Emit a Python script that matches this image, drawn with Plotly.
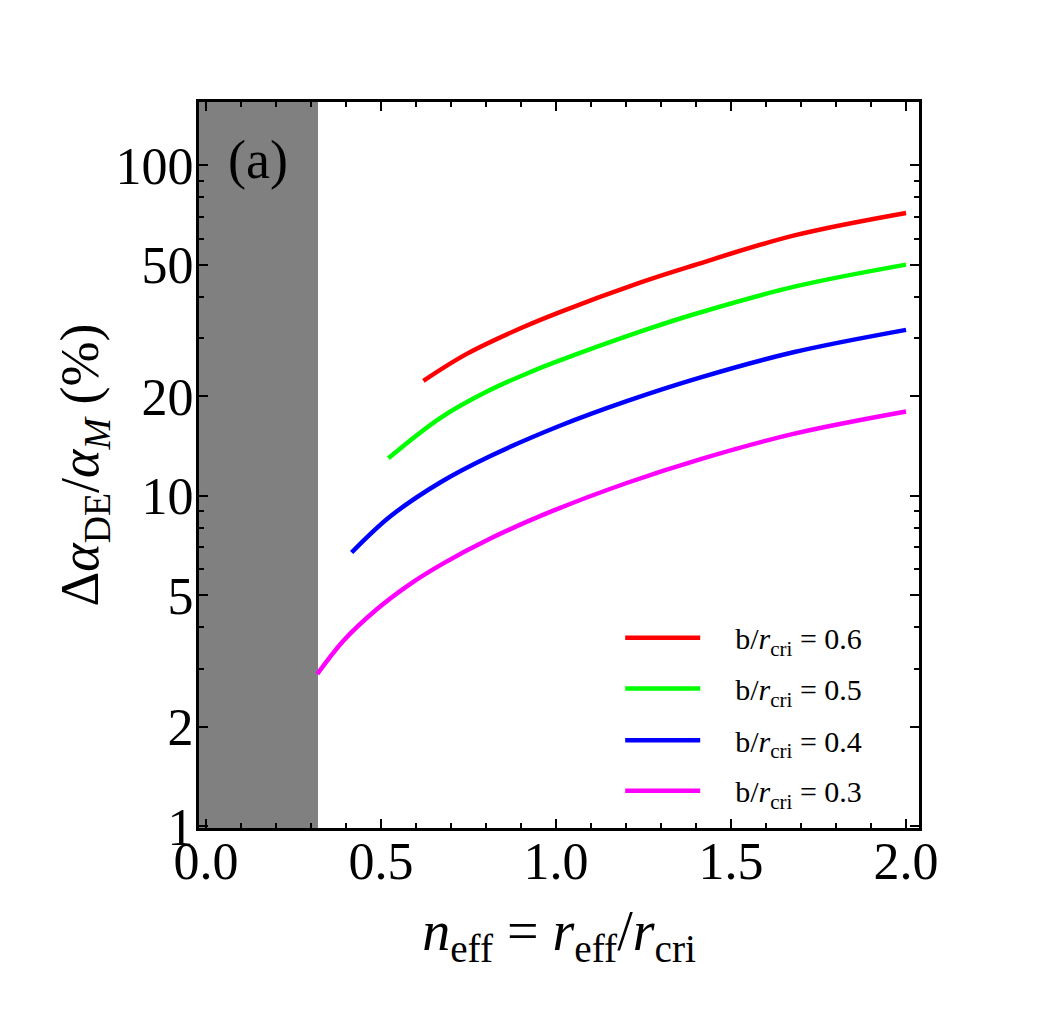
import plotly.graph_objects as go

# data (n_eff, percent)
n_red = [0.621, 0.745, 0.897, 1.011, 1.24, 1.392, 1.678, 2.0]
v_red = [22.3, 26.9, 32.1, 36.0, 44.2, 49.8, 61.3, 71.8]
n_green = [0.521, 0.669, 0.811, 0.935, 1.011, 1.24, 1.392, 1.678, 2.0]
v_green = [13.0, 17.2, 20.9, 23.9, 25.7, 31.4, 35.4, 42.9, 50.1]
n_blue = [0.416, 0.526, 0.669, 0.811, 1.011, 1.202, 1.411, 1.678, 2.0]
v_blue = [6.74, 8.66, 10.98, 13.18, 16.3, 19.35, 22.8, 27.2, 31.8]
n_mag = [0.318, 0.392, 0.488, 0.583, 0.678, 0.811, 0.992, 1.202, 1.411, 1.678, 2.0]
v_mag = [2.89, 3.64, 4.54, 5.41, 6.25, 7.42, 9.02, 10.94, 12.9, 15.4, 18.0]

series_names = ["b/<i>r</i><sub>cri</sub> = 0.6", "b/<i>r</i><sub>cri</sub> = 0.5",
                "b/<i>r</i><sub>cri</sub> = 0.4", "b/<i>r</i><sub>cri</sub> = 0.3"]
colors = ["#ff0000", "#00ff00", "#0000ff", "#ff00ff"]

excluded_x = [-0.02, 0.32]

y_major = [1, 2, 5, 10, 20, 50, 100]
y_minor = [3, 4, 6, 7, 8, 9, 30, 40, 60, 70, 80, 90]

FONT = "Liberation Serif"
PAD = "\u00a0" * 4

fig = go.Figure()
legend_ids = ["legend", "legend2", "legend3", "legend4"]
for xs, ys, name, c, lg in zip([n_red, n_green, n_blue, n_mag],
                               [v_red, v_green, v_blue, v_mag],
                               series_names, colors, legend_ids):
    fig.add_trace(go.Scatter(x=xs, y=ys, mode="lines", name=PAD + name, legend=lg,
                             line=dict(color=c, width=4.5, shape="spline", smoothing=1.0)))

fig.add_shape(type="rect", xref="x", yref="paper", x0=excluded_x[0], x1=excluded_x[1],
              y0=-0.003, y1=1, fillcolor="#808080", line_width=0, layer="below")

fig.add_annotation(text="(a)", xref="paper", yref="paper", x=0.082, y=0.92,
                   xanchor="center", yanchor="middle",
                   showarrow=False, font=dict(family=FONT, size=54, color="black"))

legend_style = dict(x=0.585, xanchor="left", yanchor="middle",
                    bgcolor="rgba(0,0,0,0)", font=dict(family=FONT, size=30),
                    itemwidth=75)
legend_y = [0.262, 0.192, 0.121, 0.0513]

fig.update_layout(
    width=1042, height=1018,
    margin=dict(l=199, r=123, t=102, b=190),
    paper_bgcolor="white", plot_bgcolor="white",
    font=dict(family=FONT, color="black"),
    showlegend=True,
    legend=dict(y=legend_y[0], **legend_style),
    legend2=dict(y=legend_y[1], **legend_style),
    legend3=dict(y=legend_y[2], **legend_style),
    legend4=dict(y=legend_y[3], **legend_style),
)

fig.update_xaxes(
    range=[-0.02, 2.037], showgrid=False, zeroline=False,
    showline=True, linewidth=3, linecolor="black", mirror="ticks",
    ticks="inside", ticklen=9, tickwidth=2, tickcolor="black",
    tickvals=[0, 0.5, 1.0, 1.5, 2.0], ticktext=["0.0", "0.5", "1.0", "1.5", "2.0"],
    tickfont=dict(family=FONT, size=52), ticklabelstandoff=-14,
    minor=dict(ticks="inside", dtick=0.1, tick0=0, ticklen=5, tickwidth=1.5, tickcolor="black", showgrid=False),
    title=dict(text="<i>n</i><sub>eff</sub> = <i>r</i><sub>eff</sub>/<i>r</i><sub>cri</sub>",
               font=dict(family=FONT, size=56), standoff=22),
)

fig.update_yaxes(
    type="log", range=[-0.005, 2.192], showgrid=False, zeroline=False,
    showline=True, linewidth=3, linecolor="black", mirror="ticks",
    ticks="inside", ticklen=9, tickwidth=2, tickcolor="black",
    tickvals=y_major, ticktext=[str(v) for v in y_major],
    tickfont=dict(family=FONT, size=52), ticklabelstandoff=-8,
    minor=dict(ticks="inside", tickmode="array", tickvals=y_minor, ticklen=5, tickwidth=1.5,
               tickcolor="black", showgrid=False),
    title=dict(text="Δ<i>α</i><sub>DE</sub>/<i>α</i><sub><i>M</i></sub> (%)",
               font=dict(family=FONT, size=54), standoff=0),
)

fig.write_html("out.html")
